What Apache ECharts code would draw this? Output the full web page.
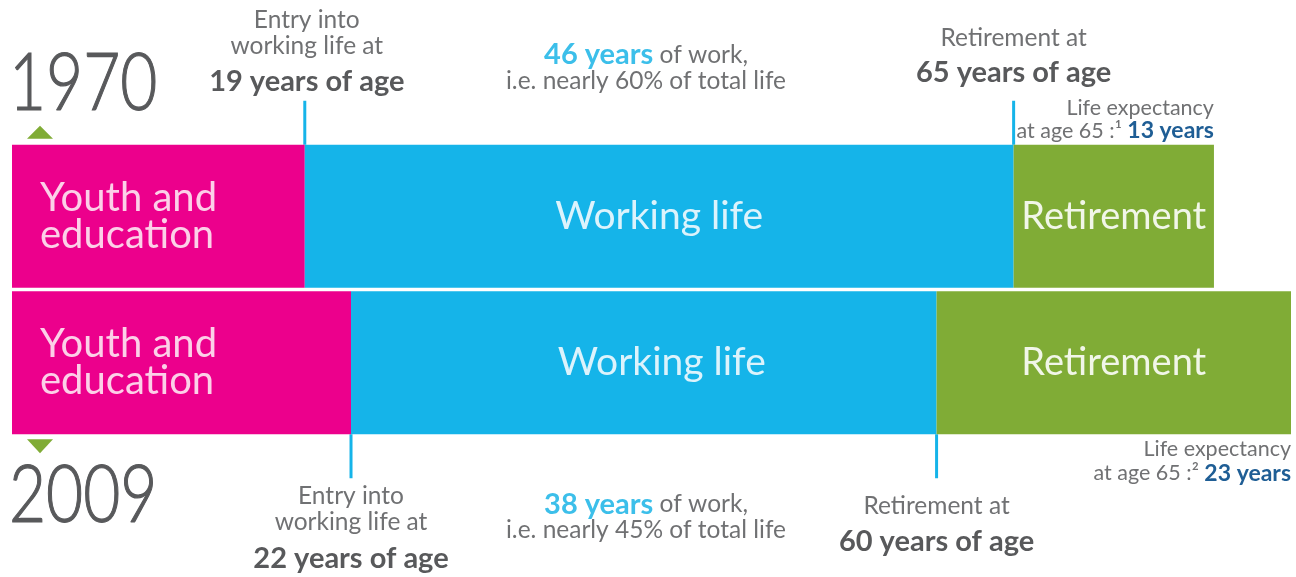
<!DOCTYPE html>
<html>
<head>
<meta charset="utf-8">
<script src="https://cdn.jsdelivr.net/npm/echarts@6/dist/echarts.min.js"></script>
<style>
html,body{margin:0;padding:0;background:#fff;}
#chart{width:1296px;height:577px;}
</style>
</head>
<body>
<div id="chart"></div>
<script>
// ---- data ----
const years = ['1970', '2009'];
const youthYears = [19, 22];
const workYears = [46, 38];
const retireYears = [13, 23];
const entryAge = [19, 22];
const retireAge = [65, 60];
const workShare = ['60%', '45%'];
const segmentNames = ['Youth and\neducation', 'Working life', 'Retirement'];
const footnotes = ['¹', '²'];

const FONT = 'Lato';
const C_PINK = '#ec008c', C_BLUE = '#15b4e9', C_GREEN = '#80ac36';
const C_TXT = '#707173', C_BOLD = '#58595b', C_SKY = '#3cbfea', C_NAVY = '#1f5e95';

const chart = echarts.init(document.getElementById('chart'), null, {renderer: 'canvas'});

const workOffsets = [[0, 0], [18, 0]];

chart.setOption({
  animation: false,
  grid: {left: 12, right: 5, top: 143, bottom: 141},
  xAxis: {type: 'value', min: 0, max: 83, show: false},
  yAxis: {type: 'category', data: years, inverse: true, show: false},
  series: [
    {
      name: 'Youth', type: 'bar', stack: 'life', barWidth: 143,
      data: youthYears,
      itemStyle: {color: C_PINK},
      label: {show: true, position: 'insideLeft', distance: 28, formatter: segmentNames[0],
        fontFamily: FONT, fontSize: 40, lineHeight: 37, color: '#fcd0e8', align: 'left'}
    },
    {
      name: 'Work', type: 'bar', stack: 'life', barWidth: 143,
      data: workYears.map((v, i) => ({value: v, label: {offset: workOffsets[i]}})),
      itemStyle: {color: C_BLUE},
      label: {show: true, position: 'inside', formatter: segmentNames[1],
        fontFamily: FONT, fontSize: 39, color: '#dcf3fc'}
    },
    {
      name: 'Retirement', type: 'bar', stack: 'life', barWidth: 143,
      data: retireYears,
      itemStyle: {color: C_GREEN},
      label: {show: true, position: 'inside', formatter: segmentNames[2],
        fontFamily: FONT, fontSize: 38, color: '#f1f6e8'}
    }
  ]
});

function px(age) { return chart.convertToPixel({xAxisIndex: 0}, age); }
function py(cat) { return chart.convertToPixel({yAxisIndex: 0}, cat); }

const half = 143 / 2;
const g = [];
function txt(x, y, text, font, fill, align, extra) {
  g.push(Object.assign({type: 'text', x: x, y: y, silent: true,
    style: {text: text, font: font, fill: fill, textAlign: align || 'center', textVerticalAlign: 'middle'}}, extra || {}));
}
function rich(x, y, text, richDef, align) {
  g.push({type: 'text', x: x, y: y, silent: true,
    style: {text: text, rich: richDef, textAlign: align || 'center', textVerticalAlign: 'middle'}});
}
function vline(x, y1, y2) {
  g.push({type: 'rect', silent: true, shape: {x: x - 1.5, y: Math.min(y1, y2), width: 3, height: Math.abs(y2 - y1)},
    style: {fill: C_BLUE}});
}

const regular = '24.5px ' + FONT, bold = 'bold 29px ' + FONT;

years.forEach((yr, i) => {
  const cy = py(yr);
  const top = i === 0;
  const edge = top ? cy - half : cy + half;
  const dir = top ? -1 : 1;
  const xe = px(entryAge[i]);
  const xr = px(retireAge[i]);
  const xEnd = px(retireAge[i] + retireYears[i]);
  // ticks
  vline(xe, edge, edge + dir * 44);
  vline(xr, edge, edge + dir * 44);
  // triangle
  g.push({type: 'polygon', silent: true, shape: {points: top
      ? [[27, edge - 6], [53, edge - 6], [40, edge - 19]]
      : [[27, edge + 5], [53, edge + 5], [40, edge + 19]]}, style: {fill: C_GREEN}});
  // year
  g.push({type: 'text', x: 9, y: top ? edge - 61 : edge + 62, scaleX: 0.8, silent: true,
    style: {text: yr, font: '300 80px ' + FONT, fill: C_BOLD, textAlign: 'left', textVerticalAlign: 'middle',
      stroke: C_BOLD, lineWidth: 1.2}});
  // entry annotation
  if (top) {
    txt(xe + 2, edge - 125, 'Entry into', regular, C_TXT);
    txt(xe + 2, edge - 99, 'working life at', regular, C_TXT);
    txt(xe + 2, edge - 63, entryAge[i] + ' years of age', bold, C_BOLD);
    txt(xr, edge - 107, 'Retirement at', regular, C_TXT);
    txt(xr, edge - 72, retireAge[i] + ' years of age', bold, C_BOLD);
  } else {
    txt(xe, edge + 62, 'Entry into', regular, C_TXT);
    txt(xe, edge + 88, 'working life at', regular, C_TXT);
    txt(xe, edge + 124, entryAge[i] + ' years of age', bold, C_BOLD);
    txt(xr, edge + 72, 'Retirement at', regular, C_TXT);
    txt(xr, edge + 107, retireAge[i] + ' years of age', bold, C_BOLD);
  }
  // work share annotation
  const xm = 646;
  rich(xm, top ? edge - 90 : edge + 70, '{b|' + workYears[i] + ' years}{r| of work,}',
    {b: {font: 'bold 29px ' + FONT, fill: C_SKY}, r: {font: regular, fill: C_TXT}});
  txt(xm, top ? edge - 64 : edge + 96, 'i.e. nearly ' + workShare[i] + ' of total life', regular, C_TXT);
  // life expectancy
  txt(xEnd, top ? edge - 37 : edge + 15, 'Life expectancy', '21.5px ' + FONT, C_TXT, 'right');
  rich(xEnd, top ? edge - 14 : edge + 39, '{r|at age 65 :' + footnotes[i] + ' }{b|' + retireYears[i] + ' years}',
    {r: {font: '21.5px ' + FONT, fill: C_TXT}, b: {font: 'bold 23px ' + FONT, fill: C_NAVY}}, 'right');
});

chart.setOption({graphic: {elements: g}});
</script>
</body>
</html>
